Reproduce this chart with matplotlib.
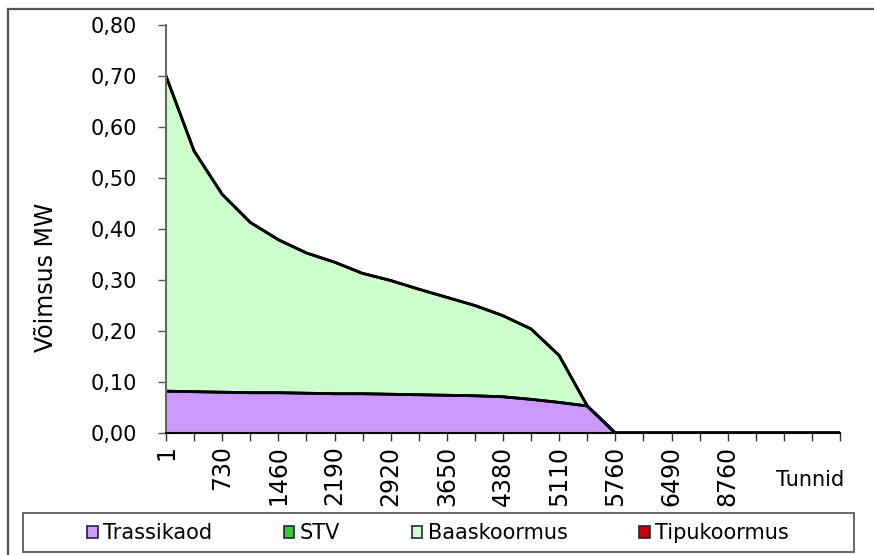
import numpy as np
import matplotlib
matplotlib.use("Agg")
import matplotlib.pyplot as plt
from matplotlib.patches import Patch, Rectangle
from matplotlib.lines import Line2D

# hour categories (one every 365 h), labels shown on every second tick
tick_labels = ["1", "730", "1460", "2190", "2920", "3650", "4380",
               "5110", "5760", "6490", "8760"]

trassikaod = [0.082, 0.081, 0.080, 0.079, 0.079, 0.078, 0.077, 0.077,
              0.076, 0.075, 0.074, 0.073, 0.071, 0.066, 0.060, 0.053,
              0, 0, 0, 0, 0, 0, 0, 0, 0]
stv = [0] * 25
baaskoormus = [0.618, 0.472, 0.388, 0.334, 0.300, 0.275, 0.258, 0.236,
               0.223, 0.207, 0.192, 0.177, 0.159, 0.138, 0.092, 0.0,
               0, 0, 0, 0, 0, 0, 0, 0, 0]
tipukoormus = [0] * 25

series = ["Trassikaod", "STV", "Baaskoormus", "Tipukoormus"]
colors = ["#cc99ff", "#33cc33", "#ccffcc", "#cc0000"]

plt.rcParams.update({"font.family": "DejaVu Sans", "font.size": 15})

W, H = 874, 555
fig = plt.figure(figsize=(W / 100, H / 100), dpi=100)
ax = fig.add_axes([166 / W, 1 - 433 / H, (840 - 166) / W, (433 - 25) / H])

x = np.arange(len(trassikaod))
bottom = np.zeros(len(x))
for vals, col in zip([trassikaod, stv, baaskoormus, tipukoormus], colors):
    top = bottom + np.array(vals)
    ax.fill_between(x, bottom, top, color=col, linewidth=0)
    ax.plot(x, top, color="black", linewidth=2, solid_joinstyle="round")
    bottom = top

ax.set_xlim(0, 24)
ax.set_ylim(0, 0.8)
ax.set_yticks(np.arange(0, 0.81, 0.1))
ax.set_yticklabels([f"{v:.2f}".replace(".", ",") for v in np.arange(0, 0.81, 0.1)])
ax.set_xticks(x)
labels = [""] * len(x)
for i, lab in enumerate(tick_labels):
    labels[2 * i] = lab
ax.set_xticklabels(labels, rotation=90, va="top", ha="center", fontsize=17)

ax.tick_params(axis="y", length=6, width=1, color="#555555", pad=15)
ax.tick_params(axis="x", length=6, width=1, color="#333333", pad=3)
for s in ["top", "right"]:
    ax.spines[s].set_visible(False)
ax.spines["left"].set_color("#666666")
ax.spines["left"].set_linewidth(1.5)
ax.spines["bottom"].set_color("black")
ax.spines["bottom"].set_linewidth(1.5)

fig.text(46 / W, 1 - 277 / H, "Võimsus MW", rotation=90, ha="center",
         va="center", fontsize=17)
fig.text(776 / W, 1 - 480 / H, "Tunnid", ha="left", va="center")

# chart frame (left and top edges only are visible)
fig.add_artist(Line2D([8 / W, 8 / W], [0, 1 - 9 / H], transform=fig.transFigure,
                      color="#555555", linewidth=1.6))
fig.add_artist(Line2D([8 / W, 1], [1 - 9 / H, 1 - 9 / H], transform=fig.transFigure,
                      color="#555555", linewidth=1.6))
# legend frame
fig.patches.append(Rectangle((23 / W, 1 - 552 / H), (854 - 23) / W, (552 - 513) / H,
                             transform=fig.transFigure, fill=False,
                             edgecolor="#666666", linewidth=1.4))

handles = [Patch(facecolor=c, edgecolor="#222244", linewidth=1.2) for c in colors]
fig.legend(handles, series, loc="center", bbox_to_anchor=(438 / W, 1 - 533 / H),
           ncol=4, frameon=False, handlelength=0.5, handleheight=0.5,
           handletextpad=0.25, columnspacing=3.45, borderaxespad=0)

fig.savefig("out.png", dpi=100)
